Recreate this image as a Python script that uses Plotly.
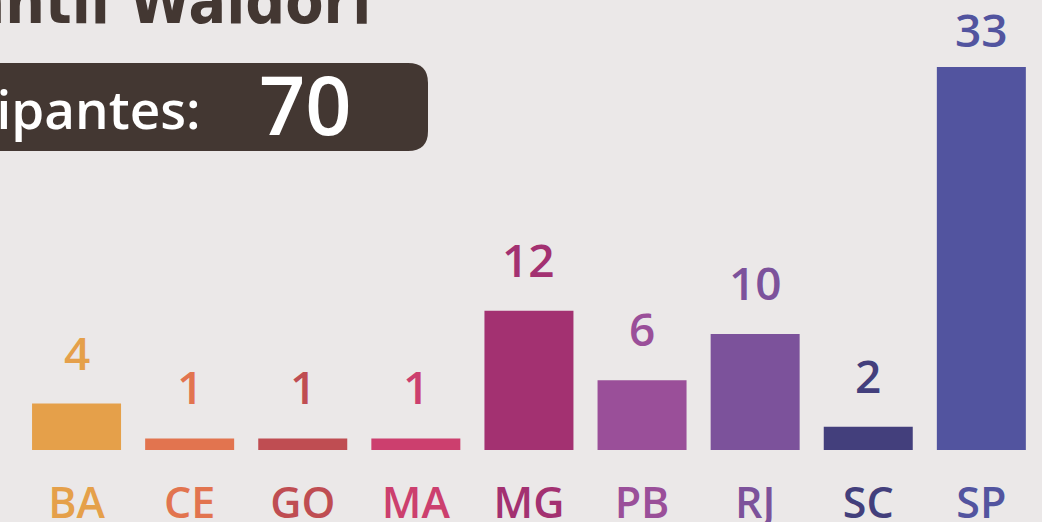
import plotly.graph_objects as go

categories = ["BA", "CE", "GO", "MA", "MG", "PB", "RJ", "SC", "SP"]
values = [4, 1, 1, 1, 12, 6, 10, 2, 33]
colors = ["#E5A04A", "#E2744F", "#BF4D52", "#CC3F6E", "#A33171",
          "#9A4F99", "#7C529B", "#433F7C", "#52549F"]
total_label = "Total de participantes:"
total_value = sum(values)
title_text = "Encontro de Educação Infantil Waldorf"

W, H = 1042, 522
FONT = "Open Sans"
ph = 450.0
px_per_unit = 11.606

fig = go.Figure()
fig.add_trace(go.Bar(
    x=categories, y=values, marker=dict(color=colors, line=dict(width=0)),
    hoverinfo="x+y", showlegend=False,
))

# value labels (kept clear of the top edge, like the original)
for c, v, col in zip(categories, values, colors):
    bar_top_px = ph - v * px_per_unit
    shift = min(19, bar_top_px - 62)
    fig.add_annotation(x=c, y=v, text=str(v), showarrow=False,
                       yanchor="bottom", yshift=shift,
                       font=dict(family=FONT, size=46, color=col, weight=600))

ticktext = [f'<span style="color:{col}">{c}</span>' for c, col in zip(categories, colors)]

# rounded dark box (paper coords; plot area spans full width, 450px tall)
def px(x):
    return x / W
def py(y):
    return (ph - y) / ph
x0, x1, y0, y1, r = -30, 428, 63, 151, 20
path = (f"M {px(x0)},{py(y0)} L {px(x1-r)},{py(y0)} Q {px(x1)},{py(y0)} {px(x1)},{py(y0+r)} "
        f"L {px(x1)},{py(y1-r)} Q {px(x1)},{py(y1)} {px(x1-r)},{py(y1)} "
        f"L {px(x0)},{py(y1)} Z")
fig.add_shape(type="path", path=path, xref="paper", yref="paper",
              fillcolor="#433732", line=dict(width=0), layer="below")

fig.add_annotation(xref="paper", yref="paper", x=px(203), y=py(108),
                   xanchor="right", yanchor="middle", showarrow=False,
                   text=total_label,
                   font=dict(family=FONT, size=53, color="#FFFFFF", weight=600))
fig.add_annotation(xref="paper", yref="paper", x=px(257), y=py(103),
                   xanchor="left", yanchor="middle", showarrow=False,
                   text=str(total_value),
                   font=dict(family=FONT, size=81, color="#FFFFFF", weight=600))

fig.add_annotation(xref="paper", yref="paper", x=px(378), y=py(40),
                   xanchor="right", yanchor="bottom", showarrow=False,
                   text=title_text,
                   font=dict(family="DejaVu Sans Condensed", size=62, color="#433732", weight=700))

step = 113.1
fig.update_layout(
    width=W, height=H,
    margin=dict(l=0, r=0, t=0, b=72, pad=0, autoexpand=False),
    paper_bgcolor="#EBE8E8", plot_bgcolor="rgba(0,0,0,0)",
    bargap=1 - 89 / step,
    xaxis=dict(range=[-0.5 - 20 / step, -0.5 - 20 / step + W / step],
               tickmode="array", tickvals=categories, ticktext=ticktext,
               showgrid=False, zeroline=False, showline=False, ticks="",
               automargin=False, ticklabelstandoff=24,
               tickfont=dict(family=FONT, size=43, weight=600)),
    yaxis=dict(range=[0, ph / px_per_unit], visible=False, showgrid=False, automargin=False),
)

fig.write_html("out.html", config={"displayModeBar": False},
               post_script="document.body.style.margin='0';document.body.style.background='#EBE8E8';")
